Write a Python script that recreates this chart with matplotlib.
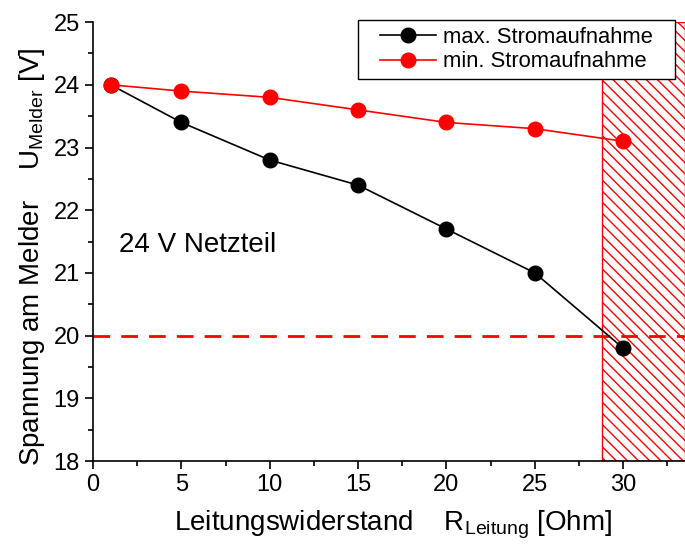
import matplotlib
matplotlib.use("Agg")
import matplotlib.pyplot as plt
from matplotlib.patches import Rectangle

plt.rcParams['font.family'] = ['Liberation Sans', 'DejaVu Sans']
plt.rcParams['mathtext.default'] = 'regular'
plt.rcParams['hatch.color'] = 'red'
plt.rcParams['hatch.linewidth'] = 1.0

# Leitungswiderstand [Ohm]
r_leitung = [1, 5, 10, 15, 20, 25, 30]
# Spannung am Melder [V]
u_max_strom = [24.0, 23.4, 22.8, 22.4, 21.7, 21.0, 19.8]
u_min_strom = [24.0, 23.9, 23.8, 23.6, 23.4, 23.3, 23.1]

u_grenze = 20.0          # minimale Betriebsspannung
r_kritisch = 28.8        # ab hier unzulässiger Bereich
x_range = (0, 33.5)
y_range = (18, 25)

fig = plt.figure(figsize=(6.85, 5.5), dpi=100)
ax = fig.add_axes([0.1358, 0.1618, 0.8642, 0.798])

ax.axvspan(r_kritisch, x_range[1], ymin=0, ymax=1, facecolor='none',
           edgecolor='red', hatch='\\\\\\', linewidth=1.0, zorder=1)
ax.axhline(u_grenze, color='red', linestyle=(0, (6, 4)), linewidth=2, zorder=2)

ax.plot(r_leitung, u_max_strom, color='black', marker='o', markersize=10.5,
        linewidth=1.2, label='max. Stromaufnahme', zorder=3)
ax.plot(r_leitung, u_min_strom, color='red', marker='o', markersize=10.5,
        linewidth=1.2, label='min. Stromaufnahme', zorder=3)

ax.set_xlim(*x_range)
ax.set_ylim(*y_range)
ax.set_xticks([0, 5, 10, 15, 20, 25, 30])
ax.set_xticks([2.5, 7.5, 12.5, 17.5, 22.5, 27.5, 32.5], minor=True)
ax.set_yticks([18, 19, 20, 21, 22, 23, 24, 25])
ax.set_yticks([18.5, 19.5, 20.5, 21.5, 22.5, 23.5, 24.5], minor=True)
ax.tick_params(which='major', direction='out', length=6, width=1.2, labelsize=17)
ax.tick_params(which='minor', direction='out', length=3.5, width=1.2)

for side in ('top', 'right'):
    ax.spines[side].set_visible(False)
for side in ('left', 'bottom'):
    ax.spines[side].set_linewidth(1.2)

ax.set_xlabel('Leitungswiderstand    R$_{Leitung}$ [Ohm]', fontsize=20)
ax.set_ylabel('Spannung am Melder    U$_{Melder}$ [V]', fontsize=20)
ax.xaxis.set_label_coords(0.506, -0.109)
ax.yaxis.set_label_coords(-0.077, 0.466)

ax.text(1.45, 21.45, '24 V Netzteil', fontsize=20, ha='left', va='center')

# legend entries without frame; the frame is drawn separately with wider side padding
leg = ax.legend(loc='upper left', bbox_to_anchor=(380 / 685, 1 - 27 / 550),
                bbox_transform=fig.transFigure, borderaxespad=0, borderpad=0,
                frameon=False, fontsize=15.8, handlelength=2.55,
                handletextpad=0.32, labelspacing=0.15)
leg.set_zorder(6)

fig.canvas.draw()
bb = leg.get_window_extent()
pad_x, pad_y = 22, 7
to_axes = ax.transAxes.inverted()
(x0, y0) = to_axes.transform((bb.x0 - pad_x, bb.y0 - pad_y))
(x1, y1) = to_axes.transform((bb.x1 + pad_x, bb.y1 + pad_y))
frame = Rectangle((x0, y0), x1 - x0, y1 - y0, transform=ax.transAxes,
                  facecolor='white', edgecolor='black', linewidth=1.0,
                  clip_on=False, zorder=5)
ax.add_patch(frame)

fig.savefig('out.png', dpi=100)
